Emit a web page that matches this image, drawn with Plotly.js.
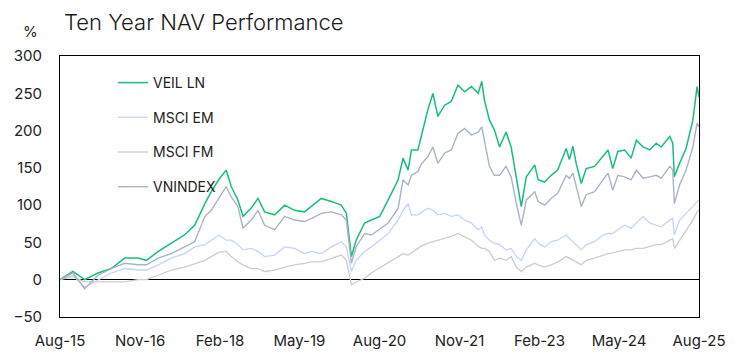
<!DOCTYPE html>
<html>
<head>
<meta charset="utf-8">
<script src="https://cdn.plot.ly/plotly-3.0.1.min.js"></script>
<style>
  html, body { margin: 0; padding: 0; background: #ffffff; }
  #chart { width: 744px; height: 362px; }
</style>
</head>
<body>
<div id="chart"></div>
<script>
// ---- Data ----
const dates = [
  "2015-08-01","2015-10-14","2015-12-20","2016-03-05","2016-05-20","2016-08-05","2016-10-20","2016-12-07",
  "2017-02-13","2017-04-28","2017-07-13","2017-09-09","2017-11-06","2017-12-13","2018-01-27","2018-03-08",
  "2018-04-06","2018-05-14","2018-06-12","2018-07-29","2018-09-06","2018-10-14","2018-12-10","2019-02-06",
  "2019-04-03","2019-05-30","2019-07-07","2019-09-03","2019-10-30","2019-12-26","2020-01-24","2020-02-22",
  "2020-03-20","2020-05-07","2020-06-15","2020-08-02","2020-09-19","2020-11-15","2020-12-13","2021-01-11",
  "2021-01-30","2021-03-08","2021-03-27","2021-05-04","2021-06-02","2021-06-30","2021-08-08","2021-09-15",
  "2021-10-23","2021-11-30","2022-01-08","2022-02-16","2022-03-08","2022-03-23","2022-04-21","2022-05-19",
  "2022-06-18","2022-07-25","2022-08-23","2022-09-22","2022-10-20","2022-11-18","2023-01-05","2023-01-24",
  "2023-03-02","2023-04-09","2023-05-16","2023-07-04","2023-07-22","2023-08-11","2023-08-30","2023-09-28",
  "2023-10-26","2023-12-13","2024-01-30","2024-02-28","2024-03-26","2024-04-24","2024-06-02","2024-07-09",
  "2024-08-08","2024-09-15","2024-10-23","2024-11-30","2024-12-28","2025-02-15","2025-03-04","2025-03-13",
  "2025-04-12","2025-05-19","2025-06-27","2025-07-21","2025-08-01"
];
const veilLN = [
  0,11,0,9,15,29,29,26, 38,49,60,73,102,118,135,147,
  125,107,85,96,109,91,87,100, 93,91,98,109,105,100,89,31,
  53,76,80,85,107,134,163,147, 174,174,192,228,250,219,234,239,
  261,252,259,250,266,241,214,201, 178,198,178,134,98,138,154,134,
  131,140,147,176,161,179,156,129, 149,152,165,174,149,172,174,163,
  187,178,174,183,178,192,183,138, 156,176,214,259,245
];
const msciEM = [
  0,6,-10,0,9,15,13,13, 20,29,35,44,47,53,60,53,
  53,47,40,42,38,31,33,44, 42,35,38,35,44,51,44,11,
  26,38,44,53,62,80,93,102, 87,87,90,96,93,87,89,85,
  87,80,76,67,71,60,53,49, 47,40,42,31,26,40,55,49,
  44,51,53,60,55,51,47,40, 47,51,60,62,62,67,73,69,
  76,85,76,73,71,80,82,60, 80,89,98,105,107
];
const msciFM = [
  0,4,-3,-3,-3,-3,0,0, 6,13,17,22,26,31,37,38,
  31,24,20,15,15,11,13,17, 20,22,24,24,29,33,26,-7,
  -3,2,9,16,22,31,35,33, 36,42,45,49,51,53,55,58,
  62,58,53,45,42,42,38,26, 29,26,31,17,11,17,22,20,
  17,20,24,31,29,26,24,20, 26,29,33,35,36,38,40,40,
  42,42,44,47,47,53,55,42, 53,67,80,91,93
];
const vnIndex = [
  0,9,-12,6,15,22,20,20, 29,35,44,51,85,93,110,125,
  111,98,69,80,93,73,67,85, 80,78,82,89,91,87,80,22,
  44,62,60,68,76,96,134,127, 140,145,155,165,178,156,170,174,
  196,203,194,198,205,187,152,140, 140,152,138,102,73,107,118,105,
  100,109,116,140,136,143,125,98, 114,118,134,143,120,140,138,134,
  147,136,138,140,136,152,147,102, 127,147,178,210,205
];
const seriesNames = ["VEIL LN", "MSCI EM", "MSCI FM", "VNINDEX"];
const seriesColors = ["#17be7b", "#c2d6f6", "#cdcdcd", "#a9b3c5"];
const seriesWidths = [1.5, 1.3, 1.3, 1.4];
const xTickVals = ["2015-08-01","2016-11-01","2018-02-01","2019-05-01","2020-08-01","2021-11-01","2023-02-01","2024-05-01","2025-08-01"];
const xTickText = ["Aug-15","Nov-16","Feb-18","May-19","Aug-20","Nov-21","Feb-23","May-24","Aug-25"];

const values = [veilLN, msciEM, msciFM, vnIndex];
const traces = values.map((v, i) => ({
  x: dates,
  y: v,
  type: "scatter",
  mode: "lines",
  name: seriesNames[i],
  legendgroup: "g" + i,
  line: { color: seriesColors[i], width: seriesWidths[i] },
  hoverinfo: "x+y+name"
}));

const FONT = "Inter, 'Noto Sans', 'DejaVu Sans', sans-serif";

const layout = {
  width: 744,
  height: 362,
  margin: { l: 60, r: 45, t: 56, b: 45 },
  paper_bgcolor: "#ffffff",
  plot_bgcolor: "#ffffff",
  font: { family: FONT, color: "#222222", size: 15 },
  title: {
    text: "Ten Year NAV Performance",
    font: { family: FONT, size: 22, color: "#1a1a1a", weight: 300 },
    x: 64 / 744, xref: "container", xanchor: "left",
    y: 1 - 22 / 362, yref: "container", yanchor: "middle"
  },
  xaxis: {
    type: "date",
    range: ["2015-08-01", "2025-08-01"],
    tickmode: "array",
    tickvals: xTickVals,
    ticktext: xTickText,
    showgrid: false,
    zeroline: false,
    showline: true,
    mirror: true,
    linecolor: "#000000",
    linewidth: 1,
    ticks: "",
    ticklabelstandoff: 10,
    tickfont: { family: FONT, size: 15, color: "#222222" }
  },
  yaxis: {
    range: [-50, 300],
    tickmode: "linear",
    tick0: -50,
    dtick: 50,
    showgrid: false,
    zeroline: true,
    zerolinecolor: "#000000",
    zerolinewidth: 1,
    showline: true,
    mirror: true,
    linecolor: "#000000",
    linewidth: 1,
    ticks: "",
    ticklabelstandoff: 14,
    tickfont: { family: FONT, size: 15, color: "#222222" }
  },
  showlegend: true,
  legend: {
    x: (113 - 60) / 639,
    y: (317 - 67) / 261,
    xanchor: "left",
    yanchor: "top",
    bgcolor: "rgba(0,0,0,0)",
    font: { family: FONT, size: 14, color: "#222222" },
    tracegroupgap: 13.5,
    traceorder: "grouped"
  },
  annotations: [{
    text: "%",
    xref: "paper", yref: "paper",
    x: (30 - 60) / 639, y: (317 - 32) / 261,
    xanchor: "center", yanchor: "middle",
    showarrow: false,
    font: { family: FONT, size: 15, color: "#222222" }
  }]
};

Plotly.newPlot("chart", traces, layout, { displayModeBar: false, staticPlot: true });
</script>
</body>
</html>
